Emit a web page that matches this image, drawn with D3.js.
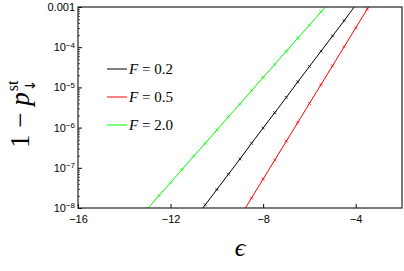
<!DOCTYPE html>
<html>
<head>
<meta charset="utf-8">
<script src="https://cdn.jsdelivr.net/npm/d3@7"></script>
<style>
  body { margin: 0; background: #fff; }
  svg { display: block; }
  .tick text { font-family: "Liberation Sans", Arial, sans-serif; font-size: 11px; fill: #000; }
</style>
</head>
<body>
<div id="chart"></div>
<script>
var width = 404;
var height = 271;
var margin = {top: 7, right: 2, bottom: 63, left: 78};

// x = epsilon, y = log10(1 - p_st)
var epsBlack = [-11, -10.5, -10, -9.5, -9, -8.5, -8, -7.5, -7, -6.5, -6, -5.5, -5, -4.5, -4, -3.5];
var logBlack = [-8.31, -7.92, -7.54, -7.16, -6.78, -6.39, -6.01, -5.63, -5.25, -4.86, -4.48, -4.10, -3.72, -3.34, -2.95, -2.57];

var epsRed = [-9, -8.5, -8, -7.5, -7, -6.5, -6, -5.5, -5, -4.5, -4, -3.5, -3];
var logRed = [-8.22, -7.75, -7.28, -6.81, -6.34, -5.87, -5.40, -4.93, -4.46, -3.99, -3.52, -3.05, -2.58];

var epsGreen = [-13.5, -13, -12.5, -12, -11.5, -11, -10.5, -10, -9.5, -9, -8.5, -8, -7.5, -7, -6.5, -6, -5.5, -5];
var logGreen = [-8.35, -8.02, -7.69, -7.37, -7.04, -6.71, -6.39, -6.06, -5.73, -5.41, -5.08, -4.75, -4.43, -4.10, -3.77, -3.45, -3.12, -2.80];

var seriesNames = ["F = 0.2", "F = 0.5", "F = 2.0"];
var seriesColors = ["#000000", "#ff0000", "#00ff00"];

var xTicks = [-16, -12, -8, -4];
var yMajor = [1e-8, 1e-7, 1e-6, 1e-5, 1e-4, 1e-3];
var yMajorExp = ["−8", "−7", "−6", "−5", "−4", null];

var series = [
  {x: epsBlack, y: logBlack},
  {x: epsRed, y: logRed},
  {x: epsGreen, y: logGreen}
].map(function(s, i) {
  return {
    name: seriesNames[i],
    color: seriesColors[i],
    points: s.x.map(function(e, j) { return [e, Math.pow(10, s.y[j])]; })
  };
});

var svg = d3.select("#chart")
    .append("svg")
    .attr("width", width)
    .attr("height", height);

var pw = width - margin.left - margin.right;
var ph = height - margin.top - margin.bottom;

var x = d3.scaleLinear().domain([-16, -2]).range([margin.left, margin.left + pw]);
var y = d3.scaleLog().domain([1e-8, 1e-3]).range([margin.top + ph, margin.top]);

svg.append("clipPath").attr("id", "clip")
  .append("rect")
  .attr("x", margin.left).attr("y", margin.top)
  .attr("width", pw).attr("height", ph);

// lines
var line = d3.line()
    .x(function(d) { return x(d[0]); })
    .y(function(d) { return y(d[1]); });

var plot = svg.append("g").attr("clip-path", "url(#clip)");

plot.selectAll("path.series")
  .data(series)
  .enter()
  .append("path")
  .attr("class", "series")
  .attr("d", function(d) { return line(d.points); })
  .attr("fill", "none")
  .attr("stroke", function(d) { return d.color; })
  .attr("stroke-width", 1);

// small x markers
series.forEach(function(s) {
  plot.selectAll(null)
    .data(s.points)
    .enter()
    .append("path")
    .attr("d", function(d) {
      var cx = x(d[0]), cy = y(d[1]), r = 1.5;
      return "M" + (cx - r) + "," + (cy - r) + "L" + (cx + r) + "," + (cy + r) +
             "M" + (cx - r) + "," + (cy + r) + "L" + (cx + r) + "," + (cy - r);
    })
    .attr("stroke", s.color)
    .attr("stroke-width", 0.7);
});

// y axis: minor + major ticks inward
var yMinor = y.ticks().filter(function(v) { return yMajor.indexOf(v) < 0; });

svg.append("g")
  .attr("transform", "translate(" + margin.left + ",0)")
  .call(d3.axisLeft(y).tickValues(yMinor).tickSize(-2).tickFormat(""))
  .call(function(g) { g.select(".domain").remove(); })
  .selectAll("line").attr("stroke", "#000").attr("stroke-width", 0.7);

var yAxis = svg.append("g")
  .attr("transform", "translate(" + margin.left + ",0)")
  .call(d3.axisLeft(y).tickValues(yMajor).tickSize(-4).tickPadding(4).tickFormat(""));
yAxis.select(".domain").remove();
yAxis.selectAll("line").attr("stroke", "#000");

yAxis.selectAll(".tick").each(function(d, i) {
  var t = d3.select(this).append("text")
    .attr("x", -3)
    .attr("dy", "0.32em")
    .attr("text-anchor", "end");
  if (yMajorExp[i] === null) {
    t.text("0.001");
  } else {
    t.append("tspan").text("10");
    t.append("tspan").attr("dy", "-0.45em").attr("font-size", "8px").text(yMajorExp[i]);
  }
});

// x axis inward ticks
var xAxis = svg.append("g")
  .attr("transform", "translate(0," + (margin.top + ph) + ")")
  .call(d3.axisBottom(x).tickValues(xTicks).tickSize(-4).tickPadding(7)
    .tickFormat(function(d) { return "−" + Math.abs(d); }));
xAxis.select(".domain").remove();
xAxis.selectAll("line").attr("stroke", "#000");

// frame
svg.append("rect")
  .attr("x", margin.left).attr("y", margin.top)
  .attr("width", pw).attr("height", ph)
  .attr("fill", "none")
  .attr("stroke", "#222")
  .attr("stroke-width", 1.2);

var serif = "'Liberation Serif', 'DejaVu Serif', serif";

// legend
var legend = svg.append("g").selectAll("g")
  .data(series)
  .enter()
  .append("g")
  .attr("transform", function(d, i) { return "translate(107," + (69 + i * 28) + ")"; });

legend.append("line")
  .attr("x1", 0).attr("x2", 20)
  .attr("stroke", function(d) { return d.color; })
  .attr("stroke-width", 1);

var lt = legend.append("text")
  .attr("x", 22)
  .attr("dy", "0.35em")
  .attr("font-family", serif)
  .attr("font-size", "15px");
lt.append("tspan").attr("font-style", "italic").text("F");
lt.append("tspan").text(function(d) { return " " + d.name.slice(2); });

// axis titles
svg.append("text")
  .attr("x", margin.left + pw / 2)
  .attr("y", 256)
  .attr("text-anchor", "middle")
  .attr("font-family", serif)
  .attr("font-style", "italic")
  .attr("font-size", "26px")
  .text("ϵ");

var yl = svg.append("g").attr("transform", "translate(29,148) rotate(-90)");
var ylt = yl.append("text")
  .attr("font-family", serif)
  .attr("font-size", "27px");
ylt.append("tspan").text("1 − ");
ylt.append("tspan").attr("font-style", "italic").text("p");
var pEnd = ylt.node().getComputedTextLength();
yl.append("text")
  .attr("x", pEnd + 1).attr("y", -11)
  .attr("font-family", serif).attr("font-size", "16px")
  .text("st");
yl.append("text")
  .attr("x", pEnd + 1).attr("y", 6)
  .attr("font-family", "'DejaVu Sans', sans-serif").attr("font-size", "14px")
  .text("↓");
</script>
</body>
</html>
